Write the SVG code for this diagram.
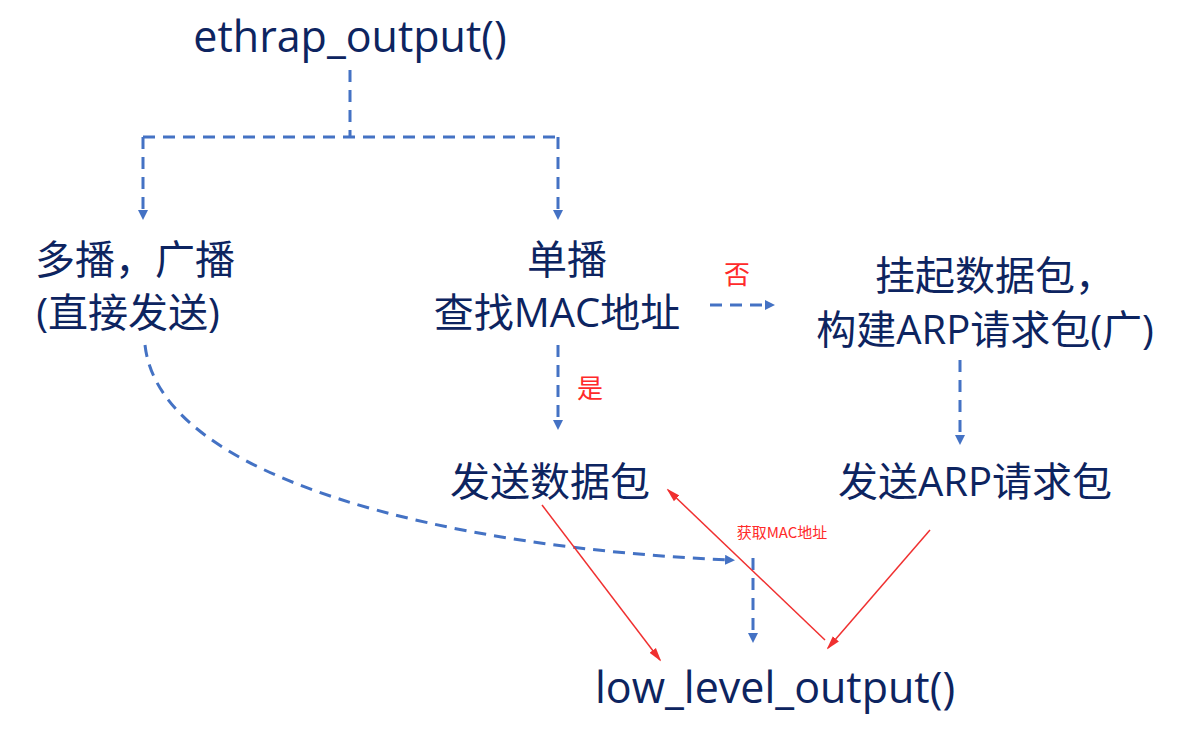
<svg xmlns="http://www.w3.org/2000/svg" width="1199" height="738" viewBox="0 0 1199 738">
<style>
.t{font-family:"Open Sans","Noto Sans CJK SC",sans-serif;fill:#0d2460;font-size:40px;text-anchor:middle}
.l{font-size:43px}
.r{font-family:"Noto Sans CJK SC",sans-serif;fill:#ff2a2a;text-anchor:middle}
.d{fill:none;stroke:#4472c4;stroke-width:3;stroke-dasharray:12,8}
.rl{fill:none;stroke:#f03030;stroke-width:1.5}
</style>
<defs>
<marker id="ab" markerWidth="10" markerHeight="10" refX="5" refY="5" orient="auto" markerUnits="userSpaceOnUse"><path d="M0,0L10,5L0,10z" fill="#4472c4"/></marker>
<marker id="ar" markerWidth="14" markerHeight="10" refX="12" refY="5" orient="auto" markerUnits="userSpaceOnUse"><path d="M0,1L14,5L0,9z" fill="#f03030"/></marker>
</defs>
<g id="connectors">
<path class="d" d="M350,70V137M143,137H558M143,137V215" marker-end="url(#ab)"/>
<path class="d" d="M558,137V215" marker-end="url(#ab)"/>
<path class="d" d="M710,305H770" marker-end="url(#ab)"/>
<path class="d" d="M558,345V425" marker-end="url(#ab)"/>
<path class="d" d="M960,360V440" marker-end="url(#ab)"/>
<path class="d" d="M145,345C160,480 450,548 730,560" marker-end="url(#ab)"/>
<path class="d" d="M753,558V638" marker-end="url(#ab)"/>
<path class="rl" d="M542,505L660,660" marker-end="url(#ar)"/>
<path class="rl" d="M825,640L668,490" marker-end="url(#ar)"/>
<path class="rl" d="M930,530L828,648" marker-end="url(#ar)"/>
<text class="r" x="737" y="284" font-size="26">否</text>
<text class="r" x="590" y="398" font-size="26">是</text>
<text class="r" x="782" y="538" font-size="15">获取MAC地址</text>
</g>
<g id="n1"><text class="t l" x="350" y="52">ethrap_output()</text></g>
<g id="n2"><text class="t" x="135" y="274">多播，广播</text><text class="t" x="128" y="327">(直接发送)</text></g>
<g id="n3"><text class="t" x="567" y="274">单播</text><text class="t" x="557" y="327">查找MAC地址</text></g>
<g id="n4"><text class="t" x="995" y="290">挂起数据包，</text><text class="t" x="985" y="344">构建ARP请求包(广)</text></g>
<g id="n5"><text class="t" x="550" y="496">发送数据包</text></g>
<g id="n6"><text class="t" x="975" y="496">发送ARP请求包</text></g>
<g id="n7"><text class="t l" x="775" y="703">low_level_output()</text></g>
</svg>
